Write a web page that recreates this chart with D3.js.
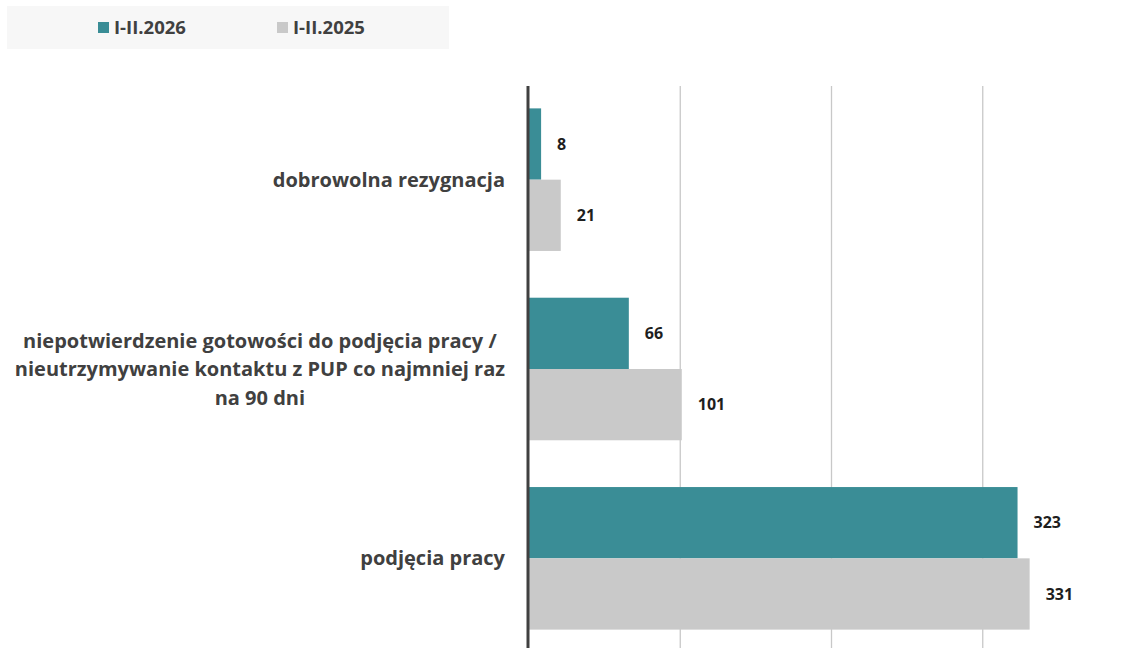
<!DOCTYPE html>
<html>
<head>
<meta charset="utf-8">
<script src="https://cdn.jsdelivr.net/npm/d3@7"></script>
<style>
  html, body { margin: 0; padding: 0; background: #ffffff; }
  svg { display: block; }
</style>
</head>
<body>
<svg id="chart" width="1124" height="648"></svg>
<script>
// ---- data ----
const categories = [
  "dobrowolna rezygnacja",
  "niepotwierdzenie gotowości do podjęcia pracy /\nnieutrzymywanie kontaktu z PUP co najmniej raz\nna 90 dni",
  "podjęcia pracy"
];
const seriesNames = ["I-II.2026", "I-II.2025"];
const values2026 = [8, 66, 323];
const values2025 = [21, 101, 331];
const xTicks = [0, 100, 200, 300, 400];

const colors = ["#3a8d96", "#c9c9c9"];
const textColor = "#404040";
const font = "'Open Sans', 'DejaVu Sans', sans-serif";

const svg = d3.select("#chart");
const W = 1124, H = 648;

// ---- scales ----
const x = d3.scaleLinear().domain([0, 400]).range([529, 1134]);
const y0 = d3.scaleBand().domain(categories).range([85, 653])
  .paddingInner(0.247).paddingOuter(0.1235);
const y1 = d3.scaleBand().domain(seriesNames).range([0, y0.bandwidth()]);

// ---- legend ----
svg.append("rect").attr("x", 7).attr("y", 6).attr("width", 442).attr("height", 43)
  .attr("fill", "#f7f7f7");
const legendX = [98, 277];
seriesNames.forEach((s, i) => {
  svg.append("rect").attr("x", legendX[i]).attr("y", 22).attr("width", 11).attr("height", 11)
    .attr("fill", colors[i]);
  svg.append("text").attr("x", legendX[i] + 16).attr("y", 34)
    .attr("font-family", font).attr("font-weight", 700).attr("font-size", 18.5)
    .attr("fill", textColor).text(s);
});

// ---- gridlines ----
const grid = svg.append("g");
grid.selectAll("line").data(xTicks.filter(d => d > 0)).join("line")
  .attr("x1", d => x(d)).attr("x2", d => x(d))
  .attr("y1", 86).attr("y2", H)
  .attr("stroke", "#c8c8c8").attr("stroke-width", 1.3);

// ---- bars ----
const groups = svg.append("g").selectAll("g").data(categories).join("g")
  .attr("transform", d => `translate(0,${y0(d)})`);

groups.each(function(cat, ci) {
  const g = d3.select(this);
  const vals = [values2026[ci], values2025[ci]];
  seriesNames.forEach((s, si) => {
    g.append("rect")
      .attr("x", x(0)).attr("y", y1(s))
      .attr("width", x(vals[si]) - x(0)).attr("height", y1.bandwidth())
      .attr("fill", colors[si]);
    g.append("text")
      .attr("x", x(vals[si]) + 16).attr("y", y1(s) + y1.bandwidth() / 2)
      .attr("dy", "0.36em")
      .attr("font-family", font).attr("font-weight", 700).attr("font-size", 16)
      .attr("fill", "#1e1e1e").text(vals[si]);
  });
});

// ---- axis line ----
svg.append("line").attr("x1", x(0) - 1).attr("x2", x(0) - 1)
  .attr("y1", 86).attr("y2", H)
  .attr("stroke", "#404040").attr("stroke-width", 3);

// ---- category labels ----
const labelRight = 505;
const lineH = 28.5;
categories.forEach(cat => {
  const lines = cat.split("\n");
  const cy = y0(cat) + y0.bandwidth() / 2;
  const t = svg.append("text")
    .attr("font-family", font).attr("font-weight", 700).attr("font-size", 20)
    .attr("fill", textColor);
  const spans = lines.map((ln, i) => t.append("tspan")
    .attr("y", cy + (i - (lines.length - 1) / 2) * lineH)
    .attr("dy", "0.35em").text(ln));
  let maxW = 0;
  spans.forEach(sp => { maxW = Math.max(maxW, sp.node().getComputedTextLength()); });
  const cx = labelRight - maxW / 2;
  t.attr("text-anchor", "middle");
  spans.forEach(sp => sp.attr("x", cx));
});
</script>
</body>
</html>
